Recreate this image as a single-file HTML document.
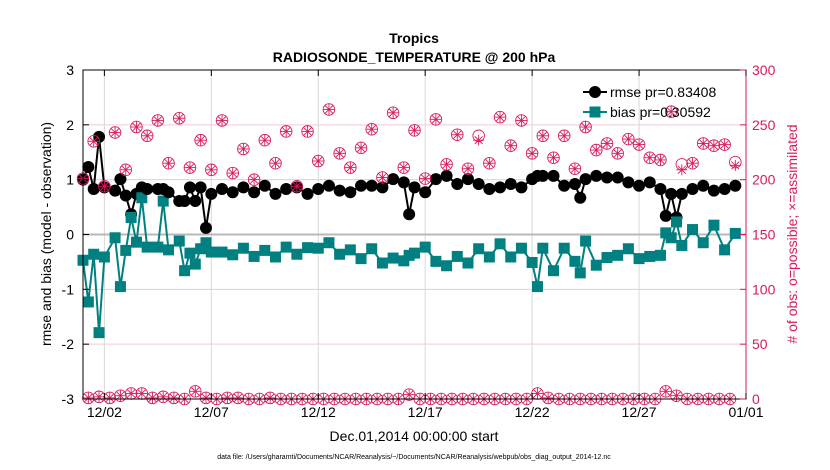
<!DOCTYPE html>
<html><head><meta charset="utf-8"><style>
body{margin:0;background:#fff;}
svg{display:block;font-family:"Liberation Sans",Arial,sans-serif;}
</style></head><body>
<svg id="chart" width="830" height="470" viewBox="0 0 830 470" xmlns="http://www.w3.org/2000/svg">
<rect width="830" height="470" fill="#fff"/>
<g id="grid"></g><g id="series"></g><g id="axes"></g>
<text x="414" y="43" text-anchor="middle" font-size="14" font-weight="bold">Tropics</text>
<text x="414" y="62" text-anchor="middle" font-size="14" font-weight="bold">RADIOSONDE_TEMPERATURE @ 200 hPa</text>
<text transform="translate(51,234) rotate(-90)" text-anchor="middle" font-size="14">rmse and bias (model - observation)</text>
<text transform="translate(797,234) rotate(-90)" text-anchor="middle" font-size="14" fill="#d81b60"># of obs: o=possible; ×=assimilated</text>
<text x="414" y="441" text-anchor="middle" font-size="14">Dec.01,2014 00:00:00 start</text>
<text x="414" y="459" text-anchor="middle" font-size="7">data file: /Users/gharamti/Documents/NCAR/Reanalysis/~/Documents/NCAR/Reanalysis/webpub/obs_diag_output_2014-12.nc</text>
<g>
<line x1="583" y1="92" x2="607" y2="92" stroke="#000" stroke-width="2"/>
<circle cx="595" cy="92" r="6" fill="#000"/>
<text x="610" y="97" font-size="14">rmse pr=0.83408</text>
<line x1="583" y1="112" x2="607" y2="112" stroke="#008080" stroke-width="2"/>
<rect x="589.5" y="106.5" width="11" height="11" fill="#008080"/>
<text x="610" y="117" font-size="14">bias pr=0.30592</text>
</g>
</svg>
<script>
const kIdx=[0,1,2,3,4,6,7,8,9,10,11,12,14,15,16,18,19,20,21,22,23,24,26,28,30,32,34,36,38,40,42,44,46,48,50,52,54,56,58,60,61,62,64,66,68,70,72,74,76,78,80,82,84,85,86,88,90,92,93,94,96,98,100,102,104,106,108,109,110,111,112,114,116,118,120,122];
const rmse=[1.0,1.23,0.83,1.78,0.86,0.8,1.01,0.71,0.37,0.74,0.86,0.83,0.83,0.83,0.77,0.61,0.61,0.86,0.61,0.86,0.12,0.74,0.83,0.77,0.86,0.77,0.89,0.74,0.83,0.86,0.74,0.83,0.89,0.80,0.77,0.89,0.89,0.86,1.01,0.95,0.37,0.86,0.77,1.01,1.07,0.92,1.01,0.92,0.83,0.86,0.92,0.86,1.01,1.07,1.07,1.07,0.89,0.92,0.67,1.01,1.07,1.04,1.04,0.95,0.89,0.95,0.83,0.34,0.74,0.31,0.74,0.83,0.89,0.80,0.83,0.89];
const bias=[-0.47,-1.23,-0.36,-1.79,-0.41,-0.06,-0.95,-0.29,0.31,-0.14,0.67,-0.23,-0.23,0.61,-0.28,-0.12,-0.66,-0.34,-0.54,-0.26,-0.15,-0.32,-0.32,-0.37,-0.25,-0.40,-0.29,-0.41,-0.23,-0.36,-0.24,-0.25,-0.15,-0.36,-0.28,-0.44,-0.26,-0.52,-0.43,-0.48,-0.38,-0.34,-0.23,-0.49,-0.57,-0.40,-0.52,-0.26,-0.41,-0.17,-0.41,-0.25,-0.51,-0.95,-0.25,-0.66,-0.25,-0.49,-0.70,-0.12,-0.56,-0.42,-0.38,-0.26,-0.44,-0.40,-0.38,0.03,-0.06,0.23,-0.20,0.09,-0.15,0.17,-0.28,0.02];
const obsUpperPossible=[201,235,194,243,209,248,240,254,215,256,211,236,209,254,206,228,200,236,215,244,194,244,217,264,224,211,229,246,202,261,211,245,201,255,214,241,210,240,215,257,231,254,224,240,220,240,210,248,227,233,224,237,232,220,218,262,214,215,233,231,232,216];
const obsUpperAssim=[201,235,194,243,209,248,240,254,215,256,211,236,209,254,206,228,200,236,215,244,194,244,217,264,224,211,229,246,202,261,211,245,201,255,214,241,210,236,215,257,231,254,224,240,220,240,210,248,227,233,224,237,232,220,218,262,209,215,233,231,232,213];
const obsLower=[1,2,1,3,5,5,1,2,1,0,7,1,0,1,1,0,0,1,0,0,0,0,0,0,0,0,0,0,0,0,4,0,0,0,0,0,0,0,0,0,0,0,5,1,0,0,0,0,0,0,0,0,0,0,7,3,0,0,0,0,0];
const yTicks=[3,2,1,0,-1,-2,-3];
const y2Ticks=[0,50,100,150,200,250,300];
const xTickDays=[1,6,11,16,21,26,31];
const xTickLabels=["12/02","12/07","12/12","12/17","12/22","12/27","01/01"];

const L=83,R=746,T=70,B=399,NS="http://www.w3.org/2000/svg";
const xs=d=>L+d/31*(R-L);
const ys=v=>T+(3-v)/6*(B-T);
const y2=c=>B-c/300*(B-T);
const PINK="#d81b60";
function mk(tag,attrs,parent){const e=document.createElementNS(NS,tag);for(const k in attrs)e.setAttribute(k,attrs[k]);parent.appendChild(e);return e;}
const grid=document.getElementById('grid'),ser=document.getElementById('series'),ax=document.getElementById('axes');

y2Ticks.forEach(c=>{const g=mk('line',{x1:L,x2:R,y1:y2(c),y2:y2(c),stroke:'#f3c6d6','stroke-width':1},grid);

});
xTickDays.forEach(d=>{const g=mk('line',{x1:xs(d),x2:xs(d),y1:T,y2:B,stroke:'#d8d8d8','stroke-width':1},grid);

});
const zl=mk('line',{x1:L,x2:R,y1:ys(0),y2:ys(0),stroke:'#b8b8b8','stroke-width':2},grid);



const rl=mk('polyline',{points:kIdx.map((k,i)=>xs(k*0.25)+','+ys(rmse[i])).join(' '),fill:'none',stroke:'#000','stroke-width':2},ser);


const bl=mk('polyline',{points:kIdx.map((k,i)=>xs(k*0.25)+','+ys(bias[i])).join(' '),fill:'none',stroke:'#008080','stroke-width':2},ser);


kIdx.forEach((k,i)=>{
 const c=mk('circle',{cx:xs(k*0.25),cy:ys(rmse[i]),r:6,fill:'#000'},ser);
 
 
 const s=mk('rect',{x:xs(k*0.25)-5.5,y:ys(bias[i])-5.5,width:11,height:11,fill:'#008080'},ser);
 
 
});
function obsMark(x,cp,ca){
 const g=mk('g',{stroke:PINK,'stroke-width':0.9,fill:'none'},ser);
 
 
 const yp=y2(cp),ya=y2(ca);
 mk('circle',{cx:x,cy:yp,r:5.8},g);
 mk('line',{x1:x-5.5,x2:x+5.5,y1:ya,y2:ya},g);
 mk('line',{x1:x,x2:x,y1:ya-5.5,y2:ya+5.5},g);
 mk('line',{x1:x-3.9,x2:x+3.9,y1:ya-3.9,y2:ya+3.9},g);
 mk('line',{x1:x-3.9,x2:x+3.9,y1:ya+3.9,y2:ya-3.9},g);
}
obsUpperPossible.forEach((c,i)=>obsMark(xs(i*0.5),c,obsUpperAssim[i]));
obsLower.forEach((c,i)=>obsMark(xs(0.25+i*0.5),c,c));

const box=mk('rect',{x:L,y:T,width:R-L,height:B-T,fill:'none',stroke:'#000','stroke-width':1},ax);


mk('line',{x1:R,x2:R,y1:T,y2:B,stroke:PINK,'stroke-width':1},ax);
yTicks.forEach(v=>{
 mk('line',{x1:L,x2:L+6,y1:ys(v),y2:ys(v),stroke:'#000'},ax);
 const t=mk('text',{x:L-9,y:ys(v)+5,'text-anchor':'end','font-size':14},ax);t.textContent=v;
 
 
});
y2Ticks.forEach(c=>{
 mk('line',{x1:R-6,x2:R,y1:y2(c),y2:y2(c),stroke:PINK},ax);
 const t=mk('text',{x:R+6,y:y2(c)+5,'font-size':14,fill:PINK},ax);t.textContent=c;
 
 
});
xTickDays.forEach((d,i)=>{
 mk('line',{x1:xs(d),x2:xs(d),y1:B,y2:B-6,stroke:'#000'},ax);
 mk('line',{x1:xs(d),x2:xs(d),y1:T,y2:T+6,stroke:'#000'},ax);
 const t=mk('text',{x:xs(d),y:417,'text-anchor':'middle','font-size':14},ax);t.textContent=xTickLabels[i];
 
 
});
</script>
</body></html>
